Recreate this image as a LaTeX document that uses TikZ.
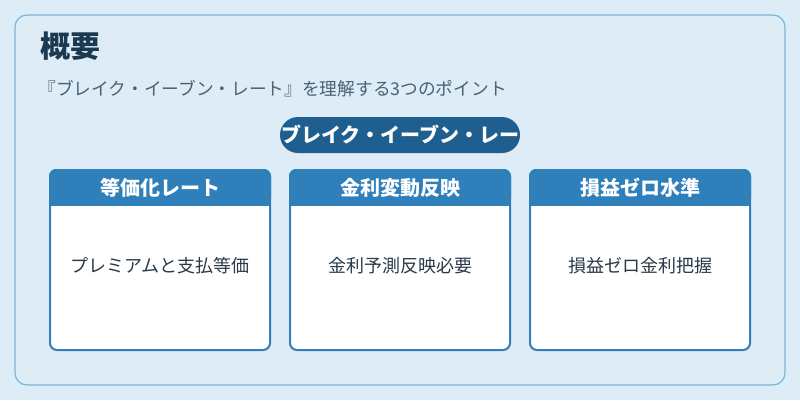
\documentclass[tikz,border=0pt]{standalone}
\usepackage{fontspec}
\setmainfont{Noto Sans CJK JP}
\definecolor{bg}{HTML}{DDECF6}
\definecolor{frame}{HTML}{7FB3D9}
\definecolor{hdr}{HTML}{2F80BA}
\definecolor{pill}{HTML}{1F5F8F}
\definecolor{ttl}{HTML}{1B3A52}
\definecolor{sub}{HTML}{4A6275}
\definecolor{txt}{HTML}{2A3A48}
\tikzset{
  card/.style={draw=hdr,line width=2pt,fill=white,rounded corners=7pt},
  hdrtxt/.style={text=white,font=\fontsize{20}{23}\selectfont\bfseries},
  bodytxt/.style={text=txt,font=\fontsize{18}{21}\selectfont},
}
\begin{document}
\begin{tikzpicture}[x=1pt,y=-1pt]
\useasboundingbox (0,0) rectangle (800,400);
\fill[bg] (0,0) rectangle (800,400);
\draw[frame,line width=1.2pt,rounded corners=12pt] (15,15) rectangle (785,385);
\node[anchor=west,text=ttl,font=\fontsize{30}{34}\selectfont\bfseries] (title) at (37,46) {概要};
\node[anchor=west,text=sub,font=\fontsize{17.7}{20}\selectfont] (subtitle) at (35,89) {『ブレイク・イーブン・レート』を理解する3つのポイント};
\fill[pill,rounded corners=18pt] (280,117) rectangle (520,153);
\node[hdrtxt] (pilltxt) at (400,135) {ブレイク・イーブン・レー};
\foreach \x/\h/\b/\n in {50/等価化レート/プレミアムと支払等価/a,290/金利変動反映/金利予測反映必要/b,530/損益ゼロ水準/損益ゼロ金利把握/c}{
  \draw[card] (\x,170) rectangle (\x+220,350);
  \fill[hdr,rounded corners=7pt] (\x-1,169) rectangle (\x+221,205);
  \fill[hdr] (\x-1,190) rectangle (\x+221,206);
  \node[hdrtxt] (h\n) at (\x+110,188) {\h};
  \node[bodytxt] (b\n) at (\x+110,266) {\b};
}
\end{tikzpicture}
\end{document}
